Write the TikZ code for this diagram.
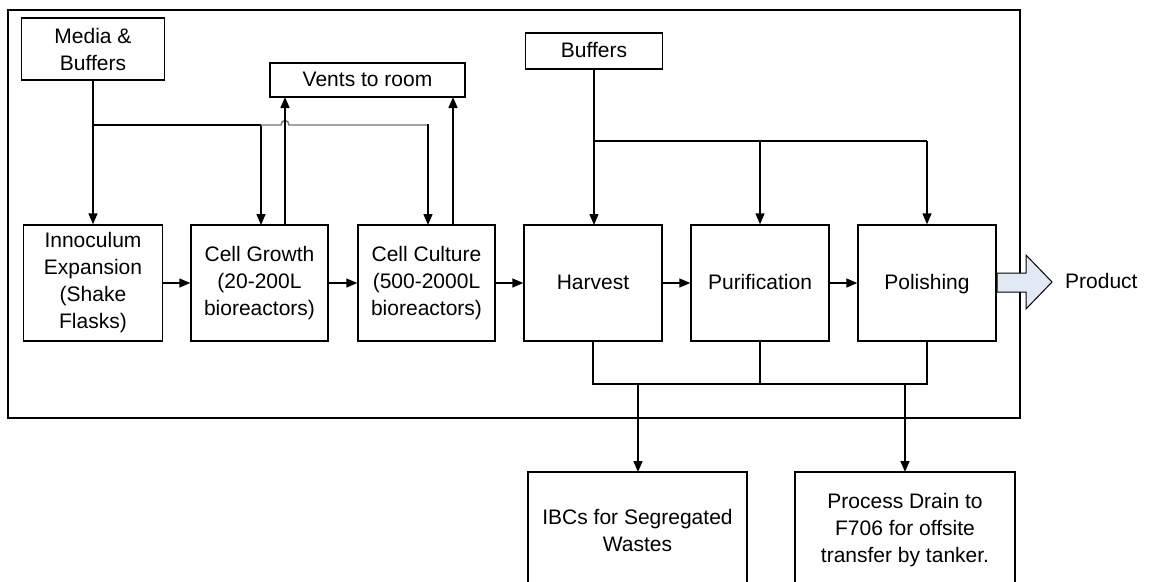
\documentclass[tikz,border=0pt]{standalone}
\usepackage{fontspec}
\setmainfont{Liberation Sans}
\usetikzlibrary{arrows.meta}
\definecolor{arrowfill}{HTML}{E1E9F5}
\begin{document}
\begin{tikzpicture}[x=1pt,y=-1pt,
  box/.style={draw=black,line width=1.4pt,inner sep=0pt,align=center,
    font=\fontsize{21}{27}\selectfont},
  one/.style={text height=16.5pt,text depth=3.5pt},
  conn/.style={line width=1.4pt,draw=black},
  arr/.style={conn,-{Triangle[length=11pt,width=9pt]}},
  txt/.style={font=\fontsize{21}{27}\selectfont,align=center,inner sep=0pt}]
\clip (0,0) rectangle (1150,581);
\useasboundingbox (0,0) rectangle (1150,581);
\fill[white] (0,0) rectangle (1150,581);
% outer frame
\draw[conn] (8,10) rectangle (1020,418);
% top boxes
\node[box,minimum width=143pt,minimum height=62pt] (media) at (93,49) {Media \&\\Buffers};
\node[box,one,minimum width=195pt,minimum height=34pt] (vents) at (367.5,80) {Vents to room};
\node[box,one,minimum width=137pt,minimum height=36pt] (buffers) at (594,51) {Buffers};
% process row
\node[box,minimum width=139pt,minimum height=116pt] (inoc) at (93,283) {Innoculum\\Expansion\\(Shake\\Flasks)};
\node[box,minimum width=137pt,minimum height=116pt] (growth) at (259.5,283) {Cell Growth\\(20-200L\\bioreactors)};
\node[box,minimum width=137pt,minimum height=116pt] (culture) at (426.5,283) {Cell Culture\\(500-2000L\\bioreactors)};
\node[box,one,minimum width=138pt,minimum height=116pt] (harvest) at (593,283) {Harvest};
\node[box,one,minimum width=138pt,minimum height=116pt] (purif) at (760,283) {Purification};
\node[box,one,minimum width=138pt,minimum height=116pt] (polish) at (927,283) {Polishing};
% bottom boxes
\node[box,minimum width=219pt,minimum height=116pt] (ibc) at (637.5,530) {IBCs for Segregated\\Wastes};
\node[box,minimum width=220pt,minimum height=116pt] (drain) at (905,530) {Process Drain to\\F706 for offsite\\transfer by tanker.};
% product
\node[txt,one,anchor=west] (product) at (1065,282) {Product};
\draw[line width=1pt,fill=arrowfill] (997,273) -- (1026,273) -- (1026,255) -- (1052,282) -- (1026,309) -- (1026,292) -- (997,292) -- cycle;
% flow arrows
\draw[arr] (inoc.east) -- (growth.west);
\draw[arr] (growth.east) -- (culture.west);
\draw[arr] (culture.east) -- (harvest.west);
\draw[arr] (harvest.east) -- (purif.west);
\draw[arr] (purif.east) -- (polish.west);
% media distribution
\coordinate (mj) at (93,125);
\draw[arr] (media.south) -- (inoc.north);
\draw[conn] (mj) -- (261,125);
\draw[arr] (261,125) -- (261,225);
\draw[line width=1.4pt,draw=black!55] (261,125) -- (281,125) .. controls (281,119) and (289,119) .. (289,125) -- (428,125);
\draw[arr] (428,124.4) -- (428,225);
% vents
\draw[arr] (285,225) -- (285,97);
\draw[arr] (453,225) -- (453,97);
% buffers distribution
\draw[arr] (buffers.south) -- (594,225);
\draw[conn] (594,141) -- (927,141);
\draw[arr] (760,141) -- (purif.north);
\draw[arr] (927,141) -- (polish.north);
% wastes
\draw[conn] (harvest.south) -- (593,384) -- (927,384) -- (polish.south);
\draw[conn] (purif.south) -- (760,384);
\draw[arr] (638,384) -- (638,472);
\draw[arr] (905,384) -- (905,472);
\end{tikzpicture}
\end{document}
